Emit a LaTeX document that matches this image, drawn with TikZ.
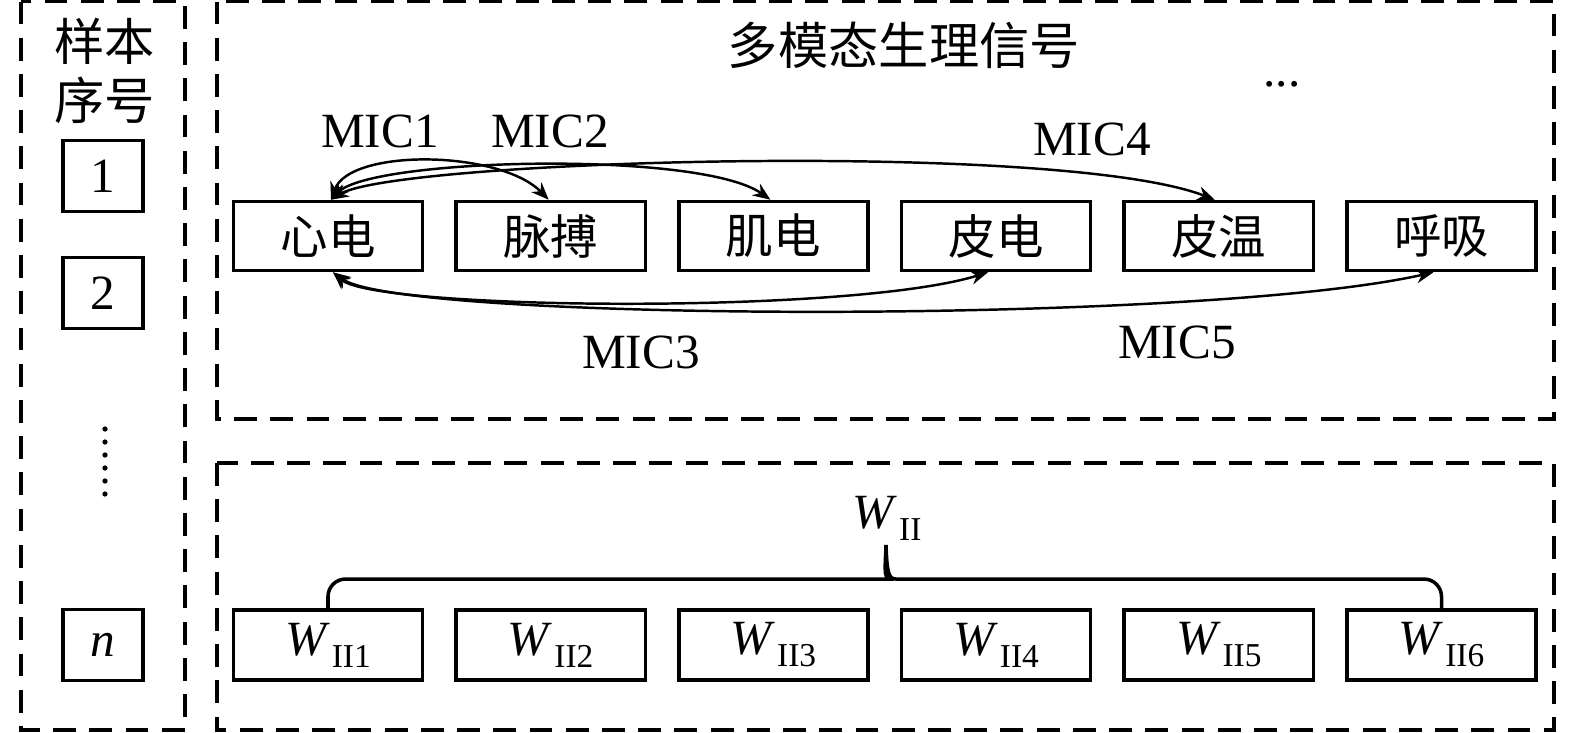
\documentclass[tikz,border=0pt]{standalone}
\usepackage{fontspec}
\setmainfont{Liberation Serif}
\newfontfamily\cjk{Noto Sans CJK SC}
\usetikzlibrary{arrows.meta}
\def\boxsep{222.7}
\newcommand{\wsub}[1]{\textit{W}\kern0.5pt\raisebox{-3.4pt}{\fontsize{9.5}{9.5}\selectfont #1}}

\begin{document}
\begin{tikzpicture}[x=0.01cm,y=-0.01cm,line width=1pt,font=\fontsize{14}{16}\selectfont]
  \tikzstyle{frame}=[dash pattern=on 6.5pt off 3.8pt,line width=1.05pt]
  \tikzstyle{signal}=[draw,minimum width=1.89cm,minimum height=0.69cm,inner sep=0pt,font=\cjk\fontsize{13.5}{16}\selectfont]
  \tikzstyle{weight}=[draw,minimum width=1.89cm,minimum height=0.70cm,inner sep=0pt]
  \tikzstyle{sample}=[draw,minimum width=0.80cm,minimum height=0.71cm,inner sep=0pt]
  \tikzstyle{mic}=[{Stealth[length=5pt,width=4pt]}-{Stealth[length=5pt,width=4pt]},line width=0.7pt]

  \useasboundingbox (0,0) rectangle (1575,732);

  % dashed frames
  \draw[frame] (21,1.5) rectangle (185,730);
  \draw[frame] (217,1.5) rectangle (1554,419);
  \draw[frame] (217,463) rectangle (1554,730);

  % sample column
  \node[align=center,font=\cjk\fontsize{14.3}{16.8}\selectfont] (idx) at (105,71) {样本\\序号};
  \node[sample] (N-1) at (103,176) {1};
  \node[sample] (N-2) at (103,293) {2};
  \node[sample] (N-n) at (103,645) {\textit{n}};
  \foreach \y in {0,...,5}
    \fill (105,{429+\y*13}) circle (0.75pt);

  % signals
  \node[font=\cjk\fontsize{14.3}{16}\selectfont] (title) at (904,45) {多模态生理信号};
  \node (more) at (1282,84) {...};

  \foreach \name / \txt in {1/心电,2/脉搏,3/肌电,4/皮电,5/皮温,6/呼吸}
    \node[signal] (S-\name) at ({328+(\name-1)*\boxsep},236) {\txt};

  \node (mic1) at (380,131) {MIC1};
  \node (mic2) at (550,131) {MIC2};
  \node (mic4) at (1092,139) {MIC4};
  \node (mic3) at (641,352) {MIC3};
  \node (mic5) at (1177,342) {MIC5};

  \draw[mic] ([xshift=0.03cm]S-1.north) .. controls (350,148) and (500,150) .. ([xshift=-0.02cm]S-2.north);
  \draw[mic] ([xshift=0.03cm]S-1.north) .. controls (372,158) and (700,150) .. ([xshift=-0.03cm]S-3.north);
  \draw[mic] ([xshift=0.03cm]S-1.north) .. controls (395,160) and (1060,140) .. ([xshift=-0.04cm]S-5.north);
  \draw[mic] ([xshift=0.05cm]S-1.south) .. controls (375,310) and (850,315) .. ([xshift=-0.08cm]S-4.south);
  \draw[mic] ([xshift=0.05cm]S-1.south) .. controls (400,322) and (1200,325) .. ([xshift=-0.08cm]S-6.south);

  % weights
  \foreach \name in {1,...,6}
    \node[weight] (W-\name) at ({328+(\name-1)*\boxsep},645) {\wsub{II\name}};

  \node (W-all) at (887,518) {\wsub{II}};
  \coordinate (tip) at (886,545);
  \draw[rounded corners=5pt] (W-1.north) |- (876,579) [sharp corners] .. controls (883,579) and (885,574) .. (tip)
    .. controls (887,574) and (889,579) .. (896,579) [rounded corners=5pt] -| (W-6.north);

\end{tikzpicture}
\end{document}
